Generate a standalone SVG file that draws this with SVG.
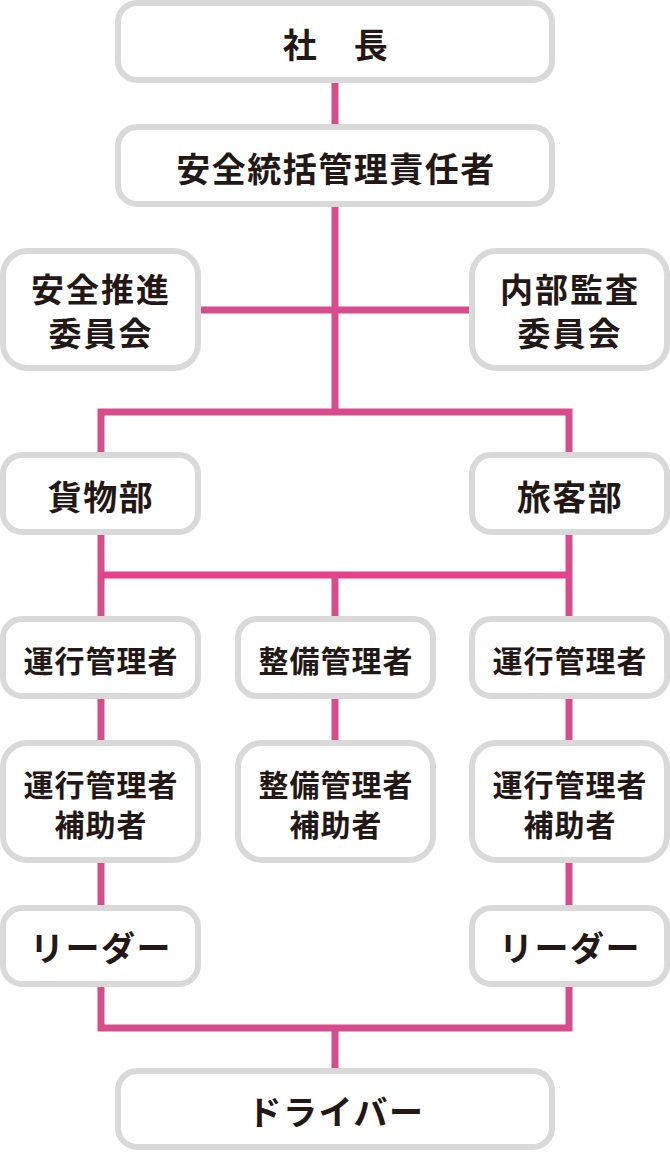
<svg xmlns="http://www.w3.org/2000/svg" width="670" height="1152" viewBox="0 0 670 1152">
<style>
.box{fill:#ffffff;stroke:#d9d9d9;stroke-width:6}
.ln{fill:none;stroke:#d74d8b;stroke-width:7;stroke-linejoin:miter;stroke-linecap:butt}
.ln2{fill:none;stroke:#e6408a;stroke-width:7}
text{font-family:"Noto Sans CJK JP","Noto Sans",sans-serif;font-weight:700;fill:#231815;text-anchor:middle;dominant-baseline:central}
.b{font-size:34px;letter-spacing:1.5px}
.b2{font-size:33px;letter-spacing:2px}
.s{font-size:30px;letter-spacing:1px}
</style>
<rect width="670" height="1152" fill="#ffffff"/>
<g id="connectors">
<path class="ln" d="M335 82 V126"/>
<path class="ln" d="M335 205 V412"/>
<path class="ln" d="M199 310 H471"/>
<path class="ln" d="M101 455 V412 H569 V455"/>
<path class="ln" d="M101 532 V619"/>
<path class="ln" d="M569 532 V619"/>
<path class="ln2" d="M101 575 H569"/>
<path class="ln" d="M335 575 V619"/>
<path class="ln" d="M101 696 V743"/>
<path class="ln" d="M335 696 V743"/>
<path class="ln" d="M569 696 V743"/>
<path class="ln" d="M101 860 V908"/>
<path class="ln" d="M569 860 V908"/>
<path class="ln" d="M101 984 V1028 H569 V984"/>
<path class="ln" d="M335 1028 V1071"/>
</g>
<g id="president"><rect class="box" x="118" y="3" width="434" height="77" rx="19"/><text class="b" x="336" y="43">社　長</text></g>
<g id="safety-manager"><rect class="box" x="118" y="127" width="434" height="77" rx="19"/><text class="b" x="336" y="167">安全統括管理責任者</text></g>
<g id="safety-committee"><rect class="box" x="3" y="251" width="195" height="117" rx="24"/><text class="b2"><tspan x="101" y="288">安全推進</tspan><tspan x="101" y="332">委員会</tspan></text></g>
<g id="audit-committee"><rect class="box" x="472" y="251" width="195" height="117" rx="24"/><text class="b2"><tspan x="570" y="288">内部監査</tspan><tspan x="570" y="332">委員会</tspan></text></g>
<g id="cargo"><rect class="box" x="3" y="455" width="195" height="77" rx="19"/><text class="b" x="101" y="495">貨物部</text></g>
<g id="passenger"><rect class="box" x="472" y="455" width="195" height="77" rx="19"/><text class="b" x="570" y="495">旅客部</text></g>
<g id="ops-manager-left"><rect class="box" x="3" y="619" width="195" height="77" rx="19"/><text class="s" x="101" y="659">運行管理者</text></g>
<g id="maint-manager"><rect class="box" x="238" y="619" width="195" height="77" rx="19"/><text class="s" x="336" y="659">整備管理者</text></g>
<g id="ops-manager-right"><rect class="box" x="472" y="619" width="195" height="77" rx="19"/><text class="s" x="570" y="659">運行管理者</text></g>
<g id="ops-assistant-left"><rect class="box" x="3" y="743" width="195" height="117" rx="24"/><text class="s"><tspan x="101" y="783">運行管理者</tspan><tspan x="101" y="823">補助者</tspan></text></g>
<g id="maint-assistant"><rect class="box" x="238" y="743" width="195" height="117" rx="24"/><text class="s"><tspan x="336" y="783">整備管理者</tspan><tspan x="336" y="823">補助者</tspan></text></g>
<g id="ops-assistant-right"><rect class="box" x="472" y="743" width="195" height="117" rx="24"/><text class="s"><tspan x="570" y="783">運行管理者</tspan><tspan x="570" y="823">補助者</tspan></text></g>
<g id="leader-left"><rect class="box" x="3" y="908" width="195" height="76" rx="19"/><text class="b" x="101" y="946">リーダー</text></g>
<g id="leader-right"><rect class="box" x="472" y="908" width="195" height="76" rx="19"/><text class="b" x="570" y="946">リーダー</text></g>
<g id="driver"><rect class="box" x="118" y="1071" width="434" height="76" rx="19"/><text class="b" x="336" y="1110">ドライバー</text></g>
</svg>
